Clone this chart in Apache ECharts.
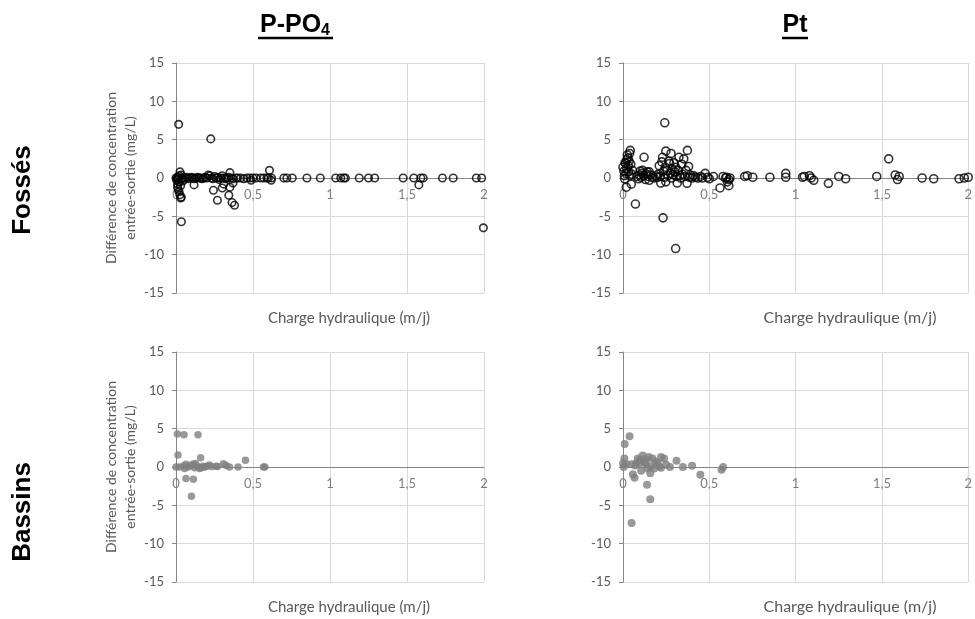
<!DOCTYPE html>
<html><head><meta charset="utf-8">
<script src="https://cdn.jsdelivr.net/npm/echarts@6/dist/echarts.min.js"></script>
<style>html,body{margin:0;padding:0;background:#fff}#c{width:975px;height:619px}</style>
</head><body><div id="c"></div>
<script>
var xTicks = [0, 0.5, 1, 1.5, 2];
var yTicks = [-15, -10, -5, 0, 5, 10, 15];
var columnTitles = ['P-PO', 'Pt'];
var rowTitles = ['Fossés', 'Bassins'];
var xTitle = 'Charge hydraulique (m/j)';
var yTitle = 'Différence de concentration\nentrée-sortie (mg/L)';

var ppo4Fosses = [
 [0.0,0],[0.005,-0.3],[0.01,-0.8],[0.01,-1.2],[0.015,-1.5],[0.02,-0.5],[0.02,-1.8],[0.025,-2.2],[0.03,-2.6],[0.035,-2.5],
 [0.03,-1.0],[0.015,0.1],[0.02,0.3],[0.026,0.8],[0.035,0.4],[0.04,0],[0.045,-0.4],[0.05,-0.2],[0.017,7.0],[0.035,-5.7],
 [0.005,0.05],[0.012,-0.1],
 [0.06,0],[0.07,0.1],[0.08,-0.1],[0.09,0],[0.10,0.1],[0.11,0],[0.12,-0.1],[0.13,0],[0.14,0.1],[0.15,0],[0.16,0],[0.17,-0.1],
 [0.18,0],[0.19,0.1],[0.20,0],[0.21,0.4],[0.22,0.3],[0.23,0],[0.24,-0.1],[0.25,0.2],[0.26,0],[0.27,0.1],[0.28,-0.2],[0.29,0],
 [0.30,0.3],[0.31,0],[0.32,-0.1],[0.33,0],[0.34,0.1],[0.36,0],[0.37,-0.1],[0.39,0],[0.40,0],[0.42,0],[0.44,-0.1],[0.46,0],
 [0.48,0],[0.50,0],[0.52,0],[0.55,0],[0.57,0],[0.59,0],[0.60,0],[0.62,0],
 [0.117,-0.9],[0.226,5.1],[0.243,-1.6],[0.269,-2.9],[0.30,-1.3],[0.31,-0.8],[0.343,-2.25],[0.35,-1.2],[0.364,-3.2],[0.38,-3.55],
 [0.37,-0.65],[0.35,0.7],[0.607,1.0],[0.488,-0.3],[0.618,-0.3],
 [0.70,0],[0.72,0],[0.755,0],[0.85,0],[0.937,0],[1.037,0],[1.07,0],[1.09,0],[1.10,0],[1.19,0],[1.25,0],[1.29,0],
 [1.475,0],[1.544,0],[1.59,0],[1.605,0],[1.73,0],[1.80,0],[1.95,0],[1.985,0],[1.577,-0.9],[1.996,-6.5]
];

var ptFosses = [
 [0.0,1.4],[0.005,0.9],[0.008,0.3],[0.01,-0.1],[0.012,2.0],[0.015,1.9],[0.018,0.6],[0.019,-1.2],[0.02,1.2],[0.022,2.4],
 [0.025,3.0],[0.029,2.6],[0.03,1.6],[0.032,0.8],[0.035,2.2],[0.038,3.2],[0.04,0.3],[0.042,3.6],[0.045,1.8],[0.048,-0.8],
 [0.05,0.5],[0.055,1.0],[0.072,-3.4],
 [0.08,0.2],[0.09,-0.1],[0.095,0.4],[0.1,0.9],[0.105,0.1],[0.11,0.6],[0.114,1.0],[0.12,0.3],[0.122,2.7],[0.13,-0.2],
 [0.135,0.5],[0.14,0.8],[0.145,0.2],[0.152,0.8],[0.152,-0.3],[0.16,0.4],[0.17,0.1],[0.18,0.0],[0.19,0.3],[0.2,0.1],
 [0.205,0.5],[0.21,1.6],[0.215,0.2],[0.219,-0.65],[0.225,2.1],[0.229,2.7],[0.232,-5.2],[0.235,0.9],[0.24,0.1],[0.242,7.2],
 [0.245,1.4],[0.248,3.5],[0.248,-0.5],[0.255,1.0],[0.26,0.3],[0.265,2.2],[0.27,1.9],[0.275,0.6],[0.278,3.2],[0.28,0.0],
 [0.285,1.2],[0.29,0.4],[0.295,2.0],[0.3,0.8],[0.305,1.4],[0.305,-9.2],[0.31,0.2],[0.314,-0.65],[0.32,1.0],[0.324,2.7],
 [0.33,0.3],[0.335,0.0],[0.34,1.8],[0.345,0.5],[0.352,2.5],[0.36,0.2],[0.365,1.0],[0.371,-0.7],[0.373,3.6],[0.38,1.5],
 [0.385,0.1],[0.39,0.4],[0.4,0.0],[0.41,0.3],[0.42,0.1],[0.434,0.0],[0.45,0.2],[0.46,0.0],[0.476,0.6],[0.49,0.1],
 [0.5,-0.1],[0.524,0.2],
 [0.562,-1.3],[0.58,0.2],[0.594,0.0],[0.6,0.1],[0.605,-0.5],[0.613,-0.2],[0.613,-1.0],[0.62,0.0],
 [0.705,0.2],[0.72,0.3],[0.752,0.1],[0.851,0.1],[0.943,0.6],[0.943,0.1],[1.04,0.1],[1.05,0.2],[1.08,0.3],[1.09,0.0],
 [1.105,-0.3],[1.19,-0.7],[1.25,0.2],[1.29,-0.1],[1.47,0.2],[1.539,2.5],[1.577,0.4],[1.59,-0.2],[1.60,0.2],[1.733,0.0],
 [1.80,-0.1],[1.947,-0.1],[1.977,0.0],[2.0,0.1]
];

var ppo4Bassins = [
 [0.009,4.3],[0.052,4.2],[0.143,4.2],[0.013,1.55],[0.16,1.2],[0.451,0.87],[0.577,0.0],[0.568,0.0],[0.403,0.0],[0.347,0.0],
 [0.325,0.2],[0.308,0.43],[0.065,-1.5],[0.113,-1.6],[0.1,-3.8],
 [0.0,0.0],[0.02,0.0],[0.05,0.15],[0.065,0.35],[0.078,0.0],[0.091,0.15],[0.108,0.35],[0.126,0.45],[0.139,0.1],[0.152,-0.2],
 [0.165,-0.1],[0.174,0.1],[0.187,0.0],[0.2,0.1],[0.217,0.25],[0.23,0.05],[0.26,0.1],[0.27,0.05],[0.056,-0.2],[0.12,-0.1]
];

var ptBassins = [
 [0.038,4.0],[0.01,3.0],[0.008,1.1],[0.05,-7.3],[0.158,-4.2],[0.139,-2.3],[0.057,-0.95],[0.067,-1.4],[0.448,-1.0],[0.571,-0.35],
 [0.58,0.0],[0.40,0.15],[0.347,0.0],[0.31,0.8],[0.272,0.0],[0.238,1.1],[0.22,1.3],[0.114,1.5],[0.086,1.1],[0.149,1.3],
 [0.171,1.1],[0.158,-0.8],[0.105,-0.5],[0.0,0.45],[0.004,0.0],[0.019,0.4],[0.095,0.5],[0.133,0.4],[0.16,0.1],[0.124,0.6],
 [0.07,0.2],[0.05,0.35],[0.143,-0.2],[0.181,-0.2],[0.2,0.5],[0.21,0.1],[0.22,-0.1],[0.25,0.3],[0.19,0.7],[0.1,0.9],
 [0.13,1.0],[0.08,0.6]
];

var FONT = 'Lato, "Open Sans", sans-serif';
var BOLD = '"Liberation Sans", Arial, sans-serif';
var grids = [
 {left:176, top:63, width:308, height:230},
 {left:623, top:63, width:350, height:230},
 {left:176, top:352, width:308, height:230},
 {left:623, top:352, width:350, height:230}
];
function xAx(i){
 return {gridIndex:i, type:'value', min:xTicks[0], max:xTicks[xTicks.length-1], interval:0.5,
  position:'bottom', offset:-grids[i].height/2,
  axisLine:{onZero:false, lineStyle:{color:'#868686', width:1}},
  axisTick:{show:false},
  axisLabel:{color:'#7f7f7f', fontSize:13, fontFamily:FONT, margin:10,
   formatter:function(v){return String(v).replace('.',',');}},
  splitLine:{show:true, lineStyle:{color:'#d9d9d9', width:1}}};
}
function yAx(i, withName){
 var o = {gridIndex:i, type:'value', min:yTicks[0], max:yTicks[yTicks.length-1], interval:5,
  axisLine:{show:true, onZero:false, lineStyle:{color:'#868686', width:1}},
  axisTick:{show:true, length:4, lineStyle:{color:'#868686'}},
  axisLabel:{color:'#595959', fontSize:13, fontFamily:FONT, margin:12},
  splitLine:{show:true, lineStyle:{color:'#d9d9d9', width:1}}};
 if (withName) {
  o.name = yTitle; o.nameLocation = 'middle'; o.nameRotate = 90; o.nameGap = 35;
  o.nameTextStyle = {color:'#595959', fontSize:14, fontFamily:FONT, lineHeight:19};
 }
 return o;
}
var openStyle = {color:'rgba(0,0,0,0)', borderColor:'#000', borderWidth:1.6};
var fillStyle = {color:'#7f7f7f'};
var option = {
 animation:false,
 grid: grids,
 xAxis:[xAx(0),xAx(1),xAx(2),xAx(3)],
 yAxis:[yAx(0,true),yAx(1,false),yAx(2,true),yAx(3,false)],
 series:[
  {type:'scatter', xAxisIndex:0, yAxisIndex:0, data:ppo4Fosses, symbolSize:7.5, itemStyle:openStyle, clip:false},
  {type:'scatter', xAxisIndex:1, yAxisIndex:1, data:ptFosses, symbolSize:8, itemStyle:openStyle, clip:false},
  {type:'scatter', xAxisIndex:2, yAxisIndex:2, data:ppo4Bassins, symbolSize:7.5, itemStyle:fillStyle, clip:false},
  {type:'scatter', xAxisIndex:3, yAxisIndex:3, data:ptBassins, symbolSize:8, itemStyle:fillStyle, clip:false}
 ],
 graphic:[
  {type:'text', x:295, y:25, style:{text:'{m|'+columnTitles[0]+'}{s|4}', align:'center', verticalAlign:'middle',
   rich:{m:{fontSize:25, fontWeight:'bold', fontFamily:BOLD, fill:'#000'},
         s:{fontSize:16, fontWeight:'bold', fontFamily:BOLD, fill:'#000', verticalAlign:'bottom', padding:[12,0,0,0]}}}},
  {type:'line', shape:{x1:258, y1:38, x2:333, y2:38}, style:{stroke:'#000', lineWidth:2.5}},
  {type:'text', x:795, y:25, style:{text:columnTitles[1], align:'center', verticalAlign:'middle',
   fontSize:25, fontWeight:'bold', fontFamily:BOLD, fill:'#000'}},
  {type:'line', shape:{x1:782, y1:38, x2:808, y2:38}, style:{stroke:'#000', lineWidth:2.5}},
  {type:'text', x:23, y:190, rotation:Math.PI/2, style:{text:rowTitles[0], align:'center', verticalAlign:'middle',
   fontSize:26, fontWeight:'bold', fontFamily:BOLD, fill:'#000'}},
  {type:'text', x:23, y:512, rotation:Math.PI/2, style:{text:rowTitles[1], align:'center', verticalAlign:'middle',
   fontSize:26, fontWeight:'bold', fontFamily:BOLD, fill:'#000'}},
  {type:'text', x:349, y:318, style:{text:xTitle, align:'center', verticalAlign:'middle', fontSize:15, fontFamily:FONT, fill:'#595959'}},
  {type:'text', x:850, y:318, style:{text:xTitle, align:'center', verticalAlign:'middle', fontSize:16, fontFamily:FONT, fill:'#595959'}},
  {type:'text', x:349, y:607, style:{text:xTitle, align:'center', verticalAlign:'middle', fontSize:15, fontFamily:FONT, fill:'#595959'}},
  {type:'text', x:850, y:607, style:{text:xTitle, align:'center', verticalAlign:'middle', fontSize:16, fontFamily:FONT, fill:'#595959'}}
 ]
};
var chart = echarts.init(document.getElementById('c'), null, {renderer:'canvas'});
chart.setOption(option);
</script>
</body></html>
